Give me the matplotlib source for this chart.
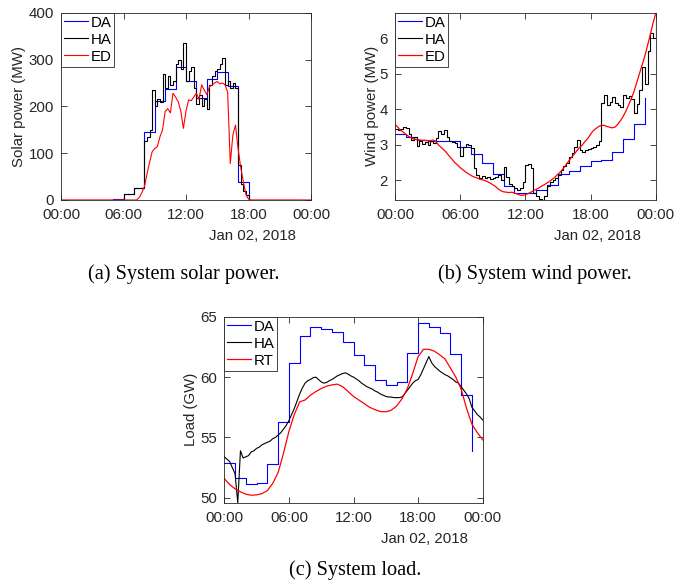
import numpy as np
import matplotlib
matplotlib.use("Agg")
import matplotlib.pyplot as plt

# time axes in hours of Jan 02, 2018
t_hour = np.arange(0, 24)            # day-ahead, hourly
t_15 = np.arange(0, 97) * 0.25       # hour-ahead / ED, 15 min
t_30 = np.arange(0, 49) * 0.5        # real time load, 30 min

tick_hours = [0, 6, 12, 18, 24]
tick_labels = ["00:00", "06:00", "12:00", "18:00", "00:00"]
date_label = "Jan 02, 2018"

# ---- (a) solar power, MW
solar_da = [0, 0, 0, 0, 0, 2, 12, 25, 145, 212, 237, 284, 254, 217, 259, 274,
            243, 39, 0, 0, 0, 0, 0, 0]
solar_ha = ([0] * 24 + [12, 12, 12, 12, 25, 25, 25, 25] +
            [125, 135, 150, 235, 200, 215, 210, 270, 240, 265, 245, 255, 290, 300,
             280, 335, 255, 275, 285, 240, 205, 225, 200, 215, 195, 245, 265, 275,
             280, 290, 303, 245, 255, 240, 250, 240, 75, 35, 20, 10] + [0] * 25)
solar_ed = ([0] * 30 +
            [5, 15, 28, 55, 80, 103, 110, 114, 135, 150, 189, 195, 186, 228, 220,
             210, 190, 153, 190, 214, 212, 220, 228, 215, 246, 235, 225, 242, 245,
             250, 253, 248, 250, 246, 230, 78, 139, 160, 110, 70, 40, 12, 2] +
            [0] * 24)

# ---- (b) wind power
wind_da = [3.30, 3.22, 3.15, 3.10, 3.10, 3.10, 2.94, 2.74, 2.50, 2.17, 1.84, 1.64,
           1.65, 1.72, 1.88, 2.18, 2.27, 2.40, 2.55, 2.58, 2.80, 3.17, 3.60, 4.33]
wind_ha = [3.46, 3.42, 3.45, 3.50, 3.48, 3.30, 3.15, 3.22, 2.98, 3.10, 3.02, 3.08,
           3.00, 3.12, 3.06, 3.20, 3.40, 3.32, 3.42, 3.22, 3.12, 3.08, 3.05, 2.95,
           2.70, 2.95, 3.02, 3.00, 2.92, 2.35, 2.15, 2.08, 2.12, 2.08, 2.10, 2.05,
           2.06, 2.10, 2.15, 2.00, 2.38, 2.10, 1.90, 1.85, 1.78, 1.72, 1.78, 1.95,
           2.43, 2.45, 2.35, 1.65, 1.56, 1.48, 1.45, 1.55, 1.85, 1.95, 2.00, 2.08,
           2.15, 2.30, 2.40, 2.50, 2.65, 2.78, 2.95, 3.15, 2.85, 2.80, 2.85, 2.88,
           2.90, 2.95, 3.00, 3.10, 4.18, 4.40, 4.12, 4.20, 4.35, 4.18, 4.12, 4.08,
           4.40, 4.32, 4.38, 4.30, 3.90, 4.15, 4.55, 5.20, 4.70, 5.65, 6.15, 6.00,
           6.50]
wind_ed = [3.58, 3.50, 3.42, 3.36, 3.30, 3.24, 3.20, 3.16, 3.15, 3.14, 3.13, 3.13,
           3.12, 3.12, 3.14, 3.10, 3.00, 2.93, 2.86, 2.78, 2.68, 2.60, 2.50, 2.44,
           2.36, 2.30, 2.24, 2.19, 2.14, 2.10, 2.08, 2.04, 2.02, 2.00, 1.97, 1.93,
           1.88, 1.83, 1.76, 1.71, 1.68, 1.67, 1.66, 1.67, 1.64, 1.62, 1.59, 1.58,
           1.60, 1.63, 1.67, 1.71, 1.75, 1.79, 1.84, 1.88, 1.93, 1.98, 2.04, 2.10,
           2.18, 2.25, 2.34, 2.44, 2.55, 2.65, 2.74, 2.84, 2.93, 3.00, 3.10, 3.18,
           3.30, 3.40, 3.46, 3.52, 3.55, 3.55, 3.52, 3.50, 3.48, 3.50, 3.58, 3.68,
           3.80, 3.95, 4.12, 4.30, 4.50, 4.75, 5.00, 5.25, 5.50, 5.80, 6.10, 6.42,
           6.70]

# ---- (c) system load, GW
load_da = [52.9, 51.66, 51.13, 51.27, 52.8, 56.27, 61.18, 63.4, 64.17, 63.95,
           63.75, 62.87, 61.82, 60.97, 59.75, 59.31, 59.61, 62.0, 64.45, 64.12,
           63.67, 61.88, 58.5, 53.9]
load_ha = [53.4, 53.2, 53.0, 52.5, 52.0, 49.6, 53.9, 53.3, 53.4, 53.5, 53.8, 53.9,
           54.1, 54.2, 54.4, 54.5, 54.6, 54.7, 54.9, 55.0, 55.2, 55.4, 55.7, 56.0,
           56.4, 56.9, 57.4, 58.0, 58.6, 59.1, 59.5, 59.7, 59.8, 59.95, 60.0, 59.8,
           59.6, 59.5, 59.55, 59.7, 59.8, 59.95, 60.1, 60.2, 60.3, 60.35, 60.25, 60.1,
           60.0, 59.85, 59.7, 59.5, 59.35, 59.2, 59.1, 59.0, 58.85, 58.75, 58.6, 58.5,
           58.4, 58.35, 58.35, 58.3, 58.3, 58.3, 58.35, 58.6, 58.9, 59.2, 59.5, 59.7,
           59.8, 60.2, 60.7, 61.2, 61.7, 61.2, 60.9, 60.7, 60.5, 60.35, 60.2, 60.1,
           59.95, 59.8, 59.6, 59.5, 59.2, 58.9, 58.6, 58.2, 57.5, 57.2, 56.9, 56.7,
           56.45]
load_rt = [51.6, 51.1, 50.75, 50.5, 50.3, 50.22, 50.25, 50.35, 50.6, 51.2, 52.1,
           53.7, 55.5, 56.9, 57.95, 58.1, 58.5, 58.8, 59.05, 59.25, 59.35, 59.42,
           59.2, 58.8, 58.4, 58.1, 57.8, 57.5, 57.3, 57.15, 57.13, 57.25, 57.6, 58.2,
           59.05, 60.3, 61.7, 62.3, 62.3, 62.15, 61.85, 61.5, 60.75, 60.0, 59.0,
           57.4, 56.1, 55.4, 54.8]

W, H = 689, 588
plt.rcParams["font.family"] = ["Liberation Sans", "DejaVu Sans"]
axcol = "#262626"
fs = 10.8

fig = plt.figure(figsize=(W / 100, H / 100), dpi=100)


def make_axes(left, top, right, bottom):
    return fig.add_axes([left / W, 1 - bottom / H, (right - left) / W, (bottom - top) / H])


def style(ax, ylabel, wpx, label_off):
    ax.set_xlim(0, 24)
    ax.set_xticks(tick_hours)
    ax.set_xticklabels(tick_labels)
    ax.tick_params(direction="in", top=True, right=True, length=4, width=0.6,
                   colors=axcol, labelsize=fs)
    ax.tick_params(axis="x", pad=6)
    ax.tick_params(axis="y", pad=5)
    for sp in ax.spines.values():
        sp.set_color(axcol)
        sp.set_linewidth(0.6)
    ax.set_ylabel(ylabel, fontsize=fs, color=axcol)
    # label_off = distance (px) of the label centre from the left spine
    ax.yaxis.set_label_coords(-(label_off - 7.5) / wpx, 0.5)
    ax.annotate(date_label, xy=(1, 0), xycoords="axes fraction",
                xytext=(-15 * 0.72, -36 * 0.72), textcoords="offset points",
                ha="right", va="center", fontsize=fs, color=axcol)
    leg = ax.legend(loc="upper left", borderaxespad=0, fontsize=fs,
                    handlelength=1.6, handletextpad=0.15, borderpad=0.2,
                    labelspacing=0.2, fancybox=False, framealpha=1,
                    edgecolor=axcol)
    leg.get_frame().set_linewidth(0.6)


# (a)
ax1 = make_axes(61, 12.7, 311, 200)
ax1.step(t_hour, solar_da, where="post", color="blue", lw=0.8, label="DA")
ax1.step(t_15, solar_ha, where="post", color="black", lw=0.8, label="HA")
ax1.plot(t_15, solar_ed, color="red", lw=0.8, label="ED")
ax1.set_ylim(0, 400)
ax1.set_yticks([0, 100, 200, 300, 400])
style(ax1, "Solar power (MW)", 250, 43)

# (b)
ax2 = make_axes(395, 12.7, 655.7, 200)
ax2.step(t_hour, wind_da, where="post", color="blue", lw=0.8, label="DA")
ax2.step(t_15, wind_ha, where="post", color="black", lw=0.8, label="HA")
ax2.plot(t_15, wind_ed, color="red", lw=0.9, label="ED")
ax2.set_ylim(1.45, 6.72)
ax2.set_yticks([2, 3, 4, 5, 6])
style(ax2, "Wind power (MW)", 260.7, 23.3)

# (c)
ax3 = make_axes(224.3, 316.7, 482.7, 502.7)
ax3.step(t_hour, load_da, where="post", color="blue", lw=0.8, label="DA")
ax3.plot(t_15, load_ha, color="black", lw=0.8, label="HA")
ax3.plot(t_30, load_rt, color="red", lw=0.9, label="RT")
ax3.set_ylim(49.6, 65)
ax3.set_yticks([50, 55, 60, 65])
style(ax3, "Load (GW)", 258.4, 33.6)

cap = dict(fontsize=14.6, family="Liberation Serif", ha="center", va="center")
fig.text(183.5 / W, 1 - 274 / H, "(a) System solar power.", **cap)
fig.text(535 / W, 1 - 274 / H, "(b) System wind power.", **cap)
fig.text(355 / W, 1 - 570 / H, "(c) System load.", **cap)

fig.savefig("out.png", dpi=100)
